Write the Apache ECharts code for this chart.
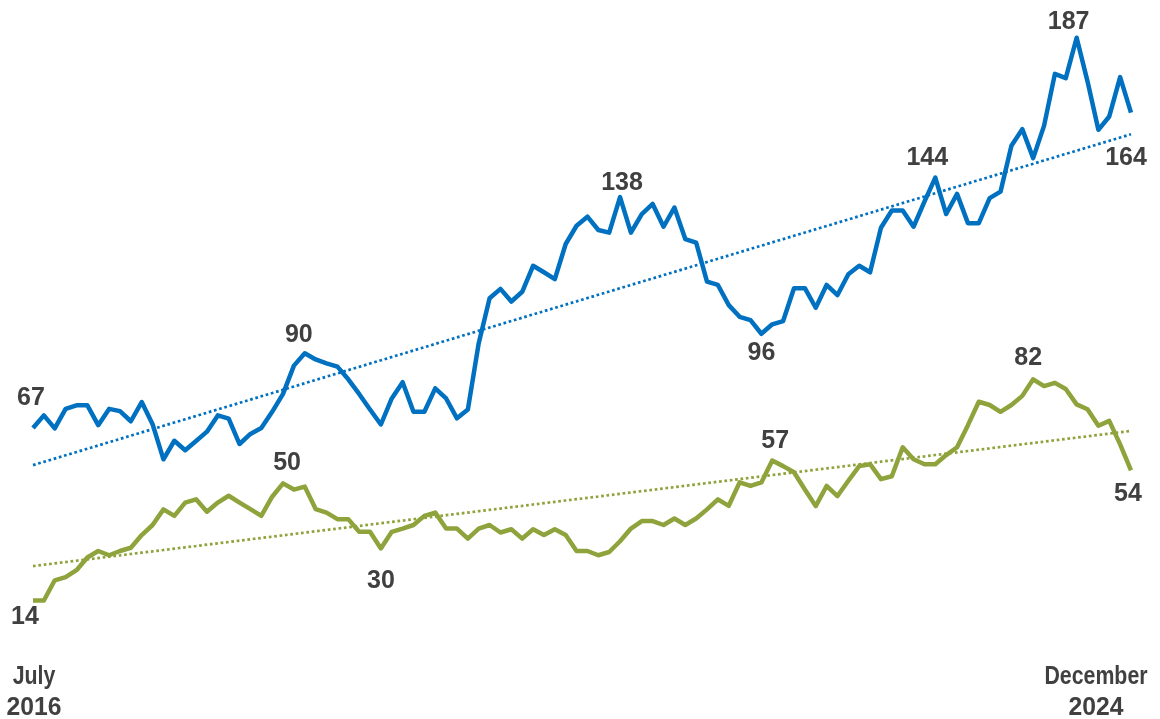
<!DOCTYPE html>
<html>
<head>
<meta charset="utf-8">
<script src="https://cdn.jsdelivr.net/npm/echarts@6/dist/echarts.min.js"></script>
<style>
  html, body { margin: 0; padding: 0; background: #ffffff; }
  #chart { width: 1160px; height: 719px; }
</style>
</head>
<body>
<div id="chart"></div>
<script>
// Monthly readings, July 2016 through December 2024
const blueValues = [
  67, 70.9, 66.9, 72.9, 74.0, 74.0, 67.9, 72.9, 72.2, 69.1,
  75.0, 68.2, 57.4, 63.1, 60.2, 63.0, 65.9, 70.9, 69.9, 62.1,
  65.2, 67.0, 72.0, 77.5, 86.2, 90, 88.1, 86.9, 85.9, 82.0,
  77.5, 72.7, 68.1, 76.1, 81.1, 72.0, 72.0, 79.2, 76.1, 70.0,
  72.7, 93.1, 106.9, 109.8, 105.9, 108.9, 116.9, 114.9, 112.8, 123.6,
  129.2, 132.0, 127.9, 127.1, 138, 127.1, 132.8, 135.9, 128.9, 134.8,
  125.1, 124.0, 112.0, 111.0, 104.8, 101.2, 100.2, 96, 98.9, 99.9,
  110.0, 110.0, 104.0, 111.0, 107.9, 114.3, 116.9, 114.9, 128.6, 133.9,
  133.9, 128.9, 136.6, 144, 132.8, 139.0, 130.0, 130.0, 137.7, 139.7,
  153.8, 158.9, 150.0, 159.9, 175.9, 174.6, 187, 173.6, 158.7, 162.8,
  174.9, 164
];

const greenValues = [
  14, 14, 20.2, 21.2, 23.3, 27.2, 29.2, 27.9, 29.2, 30.2,
  34.1, 37.2, 42.0, 40.0, 44.1, 45.1, 41.3, 44.1, 46.2, 44.1,
  42.1, 40.0, 45.9, 50, 48.1, 49.0, 42.1, 41.0, 39.0, 39.0,
  35.1, 35.1, 30, 35.1, 36.1, 37.2, 40.0, 41.0, 36.1, 36.1,
  33.0, 36.1, 37.2, 34.9, 35.9, 33.0, 35.9, 34.1, 35.9, 34.1,
  29.2, 29.2, 27.9, 28.9, 32.2, 36.1, 38.4, 38.4, 37.2, 39.2,
  37.2, 39.2, 42.0, 45.1, 43.1, 50.3, 49.2, 50.3, 57, 55.3,
  53.4, 48.1, 43.0, 49.2, 46.1, 50.8, 55.3, 55.9, 51.3, 52.2,
  61.1, 57.4, 55.9, 55.9, 58.7, 61.1, 67.9, 75.1, 74.1, 72.0,
  74.1, 76.9, 82, 79.9, 80.9, 79.0, 74.3, 72.8, 67.7, 69.2,
  62.0, 54
];

// Points whose values are written on the chart
const blueLabelIndex = [0, 25, 54, 67, 83, 96, 101];
const greenLabelIndex = [0, 23, 32, 68, 92, 101];

// Axis end captions
const firstTick = ['July', '2016'];
const lastTick = ['December', '2024'];

const monthNames = ['Jan', 'Feb', 'Mar', 'Apr', 'May', 'Jun',
                    'Jul', 'Aug', 'Sep', 'Oct', 'Nov', 'Dec'];
const categories = blueValues.map(function (_, i) {
  const k = 6 + i;
  return monthNames[k % 12] + ' ' + (2016 + Math.floor(k / 12));
});

// ---- styling ----
const BLUE = '#0070C0';
const GREEN = '#8EA33B';
const TEXT = '#404040';
const FONT = '"Liberation Sans", Arial, sans-serif';
const FONT_SIZE = 25;

// label offsets (from the point) for each annotated value
const blueLabelOffset = {
  0: [-2, -30], 25: [-6, -18], 54: [2, -14], 67: [0, 19],
  83: [-8, -20], 96: [-8, -16], 101: [-5, 46]
};
const greenLabelOffset = {
  0: [-8, 17], 23: [4, -20], 32: [0, 33], 68: [3, -19],
  92: [-5, -21], 101: [-3, 24]
};

// least-squares straight line through a series
function linearTrend(values) {
  const n = values.length;
  let sx = 0, sy = 0, sxx = 0, sxy = 0;
  values.forEach(function (v, i) { sx += i; sy += v; sxx += i * i; sxy += i * v; });
  const slope = (n * sxy - sx * sy) / (n * sxx - sx * sx);
  const icpt = (sy - slope * sx) / n;
  return values.map(function (_, i) { return +(icpt + slope * i).toFixed(2); });
}

function withLabels(values, indices, offsets) {
  return values.map(function (v, i) {
    if (indices.indexOf(i) < 0) return v;
    return { value: v, label: { show: true, offset: offsets[i] } };
  });
}

const labelStyle = {
  show: false,
  position: 'inside',
  color: TEXT,
  fontFamily: FONT,
  fontWeight: 'bold',
  fontSize: FONT_SIZE,
  align: 'center',
  verticalAlign: 'middle'
};

function mainLine(name, values, indices, offsets, color) {
  return {
    name: name,
    type: 'line',
    data: withLabels(values, indices, offsets),
    showSymbol: true,
    showAllSymbol: true,
    symbol: 'circle',
    symbolSize: 1,
    itemStyle: { color: 'rgba(0,0,0,0)', borderWidth: 0 },
    lineStyle: { color: color, width: 4.5, join: 'round' },
    label: labelStyle,
    emphasis: { disabled: true },
    z: 3
  };
}

function trendLine(name, values, color) {
  return {
    name: name,
    type: 'line',
    data: linearTrend(values),
    showSymbol: false,
    symbol: 'none',
    lineStyle: { color: color, width: 2.7, type: [2.7, 2.7], cap: 'butt' },
    emphasis: { disabled: true },
    silent: true,
    z: 2
  };
}

const chart = echarts.init(document.getElementById('chart'), null, { renderer: 'canvas' });

chart.setOption({
  animation: false,
  backgroundColor: '#ffffff',
  grid: { left: 33, right: 29, top: 28, bottom: 73, containLabel: false },
  xAxis: {
    type: 'category',
    data: categories,
    boundaryGap: false,
    axisLine: { show: false },
    axisTick: { show: false },
    axisLabel: { show: false },
    splitLine: { show: false }
  },
  yAxis: {
    type: 'value',
    min: 0,
    max: 190,
    show: false,
    splitLine: { show: false }
  },
  series: [
    trendLine('blue trend', blueValues, BLUE),
    trendLine('green trend', greenValues, GREEN),
    mainLine('blue', blueValues, blueLabelIndex, blueLabelOffset, BLUE),
    mainLine('green', greenValues, greenLabelIndex, greenLabelOffset, GREEN)
  ]
});

// end captions below the first and last months
const x0 = chart.convertToPixel({ xAxisIndex: 0 }, categories[0]);
const xN = chart.convertToPixel({ xAxisIndex: 0 }, categories[categories.length - 1]);
const yBase = chart.convertToPixel({ yAxisIndex: 0 }, 0);

// one text element per caption line; words are drawn narrower than digits
function captionLine(text, x, y) {
  const isNumber = /^\d+$/.test(text);
  return {
    type: 'text',
    x: x,
    y: y,
    scaleX: isNumber ? 0.95 : 0.82,
    style: {
      text: text,
      fill: TEXT,
      font: 'bold 26px ' + FONT,
      align: 'center',
      verticalAlign: 'middle'
    },
    silent: true
  };
}

function caption(lines, x) {
  return [
    captionLine(lines[0], x, yBase + 31),
    captionLine(lines[1], x, yBase + 62)
  ];
}

chart.setOption({
  graphic: caption(firstTick, x0 + 1).concat(caption(lastTick, xN - 35))
});
</script>
</body>
</html>
